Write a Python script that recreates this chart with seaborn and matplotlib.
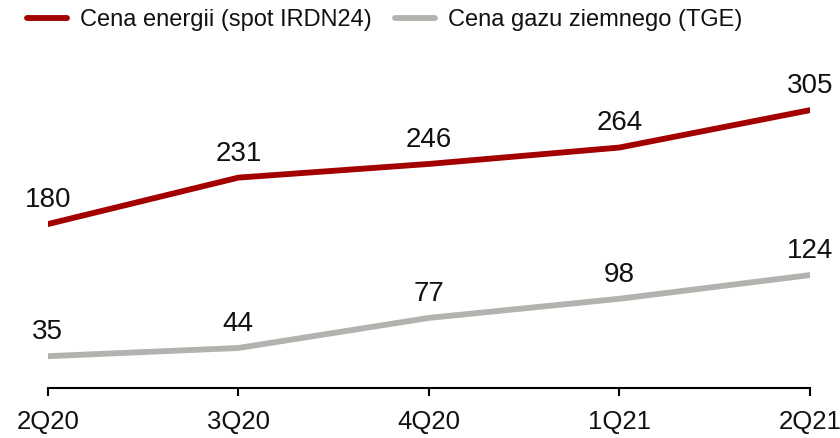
import matplotlib
matplotlib.use("Agg")
import matplotlib.pyplot as plt
import seaborn as sns
import pandas as pd
from matplotlib import font_manager

quarters = ["2Q20", "3Q20", "4Q20", "1Q21", "2Q21"]
energy = [180, 231, 246, 264, 305]
gas = [35, 44, 77, 98, 124]
series_names = ["Cena energii (spot IRDN24)", "Cena gazu ziemnego (TGE)"]
colors = ["#A30000", "#B2B2AE"]

sns.set_theme(style="white")
names = {f.name for f in font_manager.fontManager.ttflist}
fam = "Liberation Sans Narrow" if "Liberation Sans Narrow" in names else "Liberation Sans"
plt.rcParams["font.family"] = [fam, "DejaVu Sans"]

df = pd.DataFrame({
    "quarter": quarters * 2,
    "x": list(range(len(quarters))) * 2,
    "value": energy + gas,
    "series": [series_names[0]] * len(quarters) + [series_names[1]] * len(quarters),
})

fig = plt.figure(figsize=(8.4, 4.38), dpi=100)
ax = fig.add_axes([0.057, 0.114, 0.907, 0.728])
sns.lineplot(data=df, x="x", y="value", hue="series", palette=colors,
             linewidth=4.2, ax=ax, legend=True, sort=False)

for vals in (energy, gas):
    for i, v in enumerate(vals):
        ax.annotate(str(v), (i, v), xytext=(0, 8), textcoords="offset points",
                    ha="center", va="bottom", fontsize=20, color="#111111")

ax.set_xlim(0, len(quarters) - 1)
ax.set_ylim(0, 350)
ax.set_xticks(range(len(quarters)))
ax.set_xticklabels(quarters, fontsize=18.5, color="#111111")
ax.set_yticks([])
ax.set_xlabel("")
ax.set_ylabel("")
for s in ["left", "right", "top"]:
    ax.spines[s].set_visible(False)
ax.spines["bottom"].set_color("black")
ax.spines["bottom"].set_linewidth(1.5)
ax.tick_params(axis="x", direction="out", length=6, width=1.5, color="black", pad=10, bottom=True)

leg = ax.legend(loc="center left", bbox_to_anchor=(-0.04, 1.154), ncol=2, frameon=False,
                fontsize=17, handlelength=1.7, handletextpad=0.55, columnspacing=1.0,
                borderaxespad=0)
for h in leg.get_lines():
    h.set_linewidth(4.2)
    h.set_solid_capstyle("round")
for t in leg.get_texts():
    t.set_color("#111111")

fig.savefig("out.png", dpi=100)
